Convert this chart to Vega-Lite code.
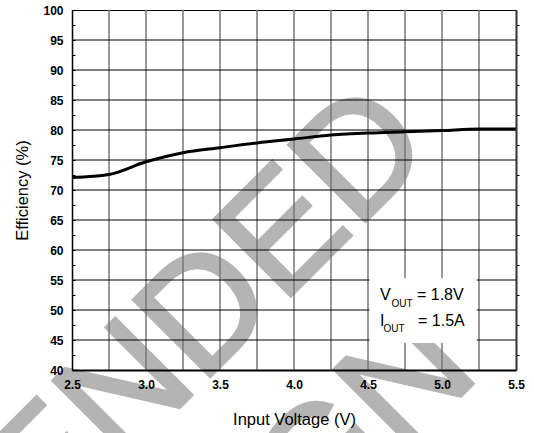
{
  "$schema": "https://vega.github.io/schema/vega-lite/v6.json",
  "width": 444,
  "height": 360,
  "autosize": {"type": "none"},
  "padding": {"left": 72, "top": 10, "right": 18, "bottom": 63},
  "background": "white",
  "config": {
    "view": {"stroke": "#000", "strokeWidth": 1},
    "font": "Liberation Sans"
  },
  "datasets": {
    "efficiency": [
      {"vin": 2.5, "eff": 72.1},
      {"vin": 2.75, "eff": 72.6},
      {"vin": 3.0, "eff": 74.7},
      {"vin": 3.25, "eff": 76.2},
      {"vin": 3.5, "eff": 77.05},
      {"vin": 3.75, "eff": 77.85},
      {"vin": 4.0, "eff": 78.5},
      {"vin": 4.25, "eff": 79.15},
      {"vin": 4.5, "eff": 79.5},
      {"vin": 4.75, "eff": 79.7},
      {"vin": 5.0, "eff": 79.9},
      {"vin": 5.25, "eff": 80.15},
      {"vin": 5.5, "eff": 80.15}
    ],
    "vgrid": [
      {"v": 2.75}, {"v": 3.0}, {"v": 3.25}, {"v": 3.5}, {"v": 3.75}, {"v": 4.0},
      {"v": 4.25}, {"v": 4.5}, {"v": 4.75}, {"v": 5.0}, {"v": 5.25}
    ],
    "hgrid": [
      {"e": 45}, {"e": 50}, {"e": 55}, {"e": 60}, {"e": 65}, {"e": 70},
      {"e": 75}, {"e": 80}, {"e": 85}, {"e": 90}, {"e": 95}
    ],
    "single": [{}]
  },
  "resolve": {"axis": {"x": "independent", "y": "independent"}},
  "layer": [
    {
      "data": {"name": "single"},
      "mark": {"type": "text", "text": "NOT RECOMMENDED", "angle": -45, "align": "right", "baseline": "alphabetic", "fontSize": 158, "font": "Liberation Sans", "color": "#b4b4b4", "stroke": "#b4b4b4", "strokeWidth": 3},
      "encoding": {
        "x": {"datum": 4.966, "type": "quantitative", "scale": {"domain": [2.5, 5.5], "nice": false, "zero": false}, "axis": null},
        "y": {"datum": 76.67, "type": "quantitative", "scale": {"domain": [40, 100], "nice": false, "zero": false}, "axis": null}
      }
    },
    {
      "data": {"name": "single"},
      "mark": {"type": "text", "text": "FOR NEW DESIGN", "angle": -45, "align": "right", "baseline": "alphabetic", "fontSize": 158, "font": "Liberation Sans", "color": "#b4b4b4", "stroke": "#b4b4b4", "strokeWidth": 3},
      "encoding": {
        "x": {"datum": 5.274, "type": "quantitative", "scale": {"domain": [2.5, 5.5], "nice": false, "zero": false}, "axis": null},
        "y": {"datum": 39.25, "type": "quantitative", "scale": {"domain": [40, 100], "nice": false, "zero": false}, "axis": null}
      }
    },
    {
      "data": {"name": "vgrid"},
      "mark": {"type": "rule", "color": "#777777", "strokeWidth": 1.5},
      "encoding": {
        "x": {"field": "v", "type": "quantitative", "scale": {"domain": [2.5, 5.5], "nice": false, "zero": false}, "axis": null}
      }
    },
    {
      "data": {"name": "hgrid"},
      "mark": {"type": "rule", "color": "#000000", "strokeWidth": 1},
      "encoding": {
        "y": {
          "field": "e", "type": "quantitative",
          "scale": {"domain": [40, 100], "nice": false, "zero": false},
          "axis": {
            "orient": "right", "title": null, "labels": false, "grid": false,
            "values": [42.5, 47.5, 52.5, 57.5, 62.5, 67.5, 72.5, 77.5, 82.5, 87.5, 92.5, 97.5],
            "ticks": true, "tickSize": 3, "tickColor": "#000", "tickWidth": 1,
            "domain": true, "domainColor": "#333", "domainWidth": 2, "zindex": 1
          }
        }
      }
    },
    {
      "data": {"name": "single"},
      "mark": {"type": "rect", "color": "white"},
      "encoding": {
        "x": {"datum": 4.51, "type": "quantitative", "scale": {"domain": [2.5, 5.5], "nice": false, "zero": false}, "axis": null},
        "x2": {"datum": 5.235},
        "y": {"datum": 44.5, "type": "quantitative", "scale": {"domain": [40, 100], "nice": false, "zero": false}, "axis": null},
        "y2": {"datum": 55.3}
      }
    },
    {
      "data": {"name": "single"},
      "mark": {"type": "text", "text": "V", "align": "left", "baseline": "alphabetic", "fontSize": 16, "color": "#000"},
      "encoding": {
        "x": {"datum": 4.581, "type": "quantitative", "scale": {"domain": [2.5, 5.5], "nice": false, "zero": false}, "axis": null},
        "y": {"datum": 51.67, "type": "quantitative", "scale": {"domain": [40, 100], "nice": false, "zero": false}, "axis": null}
      }
    },
    {
      "data": {"name": "single"},
      "mark": {"type": "text", "text": "OUT", "align": "left", "baseline": "alphabetic", "fontSize": 10, "color": "#000"},
      "encoding": {
        "x": {"datum": 4.659, "type": "quantitative", "scale": {"domain": [2.5, 5.5], "nice": false, "zero": false}, "axis": null},
        "y": {"datum": 50.55, "type": "quantitative", "scale": {"domain": [40, 100], "nice": false, "zero": false}, "axis": null}
      }
    },
    {
      "data": {"name": "single"},
      "mark": {"type": "text", "text": "= 1.8V", "align": "left", "baseline": "alphabetic", "fontSize": 16, "color": "#000"},
      "encoding": {
        "x": {"datum": 4.831, "type": "quantitative", "scale": {"domain": [2.5, 5.5], "nice": false, "zero": false}, "axis": null},
        "y": {"datum": 51.67, "type": "quantitative", "scale": {"domain": [40, 100], "nice": false, "zero": false}, "axis": null}
      }
    },
    {
      "data": {"name": "single"},
      "mark": {"type": "text", "text": "I", "align": "left", "baseline": "alphabetic", "fontSize": 16, "color": "#000"},
      "encoding": {
        "x": {"datum": 4.581, "type": "quantitative", "scale": {"domain": [2.5, 5.5], "nice": false, "zero": false}, "axis": null},
        "y": {"datum": 47.33, "type": "quantitative", "scale": {"domain": [40, 100], "nice": false, "zero": false}, "axis": null}
      }
    },
    {
      "data": {"name": "single"},
      "mark": {"type": "text", "text": "OUT", "align": "left", "baseline": "alphabetic", "fontSize": 10, "color": "#000"},
      "encoding": {
        "x": {"datum": 4.604, "type": "quantitative", "scale": {"domain": [2.5, 5.5], "nice": false, "zero": false}, "axis": null},
        "y": {"datum": 46.38, "type": "quantitative", "scale": {"domain": [40, 100], "nice": false, "zero": false}, "axis": null}
      }
    },
    {
      "data": {"name": "single"},
      "mark": {"type": "text", "text": "= 1.5A", "align": "left", "baseline": "alphabetic", "fontSize": 16, "color": "#000"},
      "encoding": {
        "x": {"datum": 4.838, "type": "quantitative", "scale": {"domain": [2.5, 5.5], "nice": false, "zero": false}, "axis": null},
        "y": {"datum": 47.33, "type": "quantitative", "scale": {"domain": [40, 100], "nice": false, "zero": false}, "axis": null}
      }
    },
    {
      "data": {"name": "efficiency"},
      "mark": {"type": "line", "color": "#000", "strokeWidth": 3, "interpolate": "monotone"},
      "encoding": {
        "x": {
          "field": "vin", "type": "quantitative",
          "scale": {"domain": [2.5, 5.5], "nice": false, "zero": false},
          "axis": {
            "title": "Input Voltage (V)", "titleFont": "Liberation Sans", "titleFontSize": 16.5, "titleFontWeight": "normal", "titleColor": "#000", "titlePadding": 21,
            "values": [2.5, 3.0, 3.5, 4.0, 4.5, 5.0, 5.5], "format": ".1f",
            "labelFont": "Liberation Sans", "labelFontSize": 12, "labelFontWeight": "bold", "labelColor": "#000", "labelPadding": 9,
            "labelFlush": false, "labelOverlap": false,
            "ticks": false, "grid": false, "domainColor": "#000", "domainWidth": 2, "zindex": 1
          }
        },
        "y": {
          "field": "eff", "type": "quantitative",
          "scale": {"domain": [40, 100], "nice": false, "zero": false},
          "axis": {
            "title": "Efficiency (%)", "titleFont": "Liberation Sans", "titleFontSize": 16.5, "titleFontWeight": "normal", "titleColor": "#000", "titlePadding": 12,
            "values": [40, 42.5, 45, 47.5, 50, 52.5, 55, 57.5, 60, 62.5, 65, 67.5, 70, 72.5, 75, 77.5, 80, 82.5, 85, 87.5, 90, 92.5, 95, 97.5, 100],
            "labelExpr": "datum.value % 5 === 0 ? datum.label : ''",
            "labelFont": "Liberation Sans", "labelFontSize": 12, "labelFontWeight": "bold", "labelColor": "#000", "labelPadding": 12,
            "labelFlush": false, "labelOverlap": false,
            "ticks": true, "tickSize": -3, "tickColor": "#000", "tickWidth": 1,
            "grid": false, "domainColor": "#000", "domainWidth": 1.5, "zindex": 1
          }
        }
      }
    }
  ]
}
